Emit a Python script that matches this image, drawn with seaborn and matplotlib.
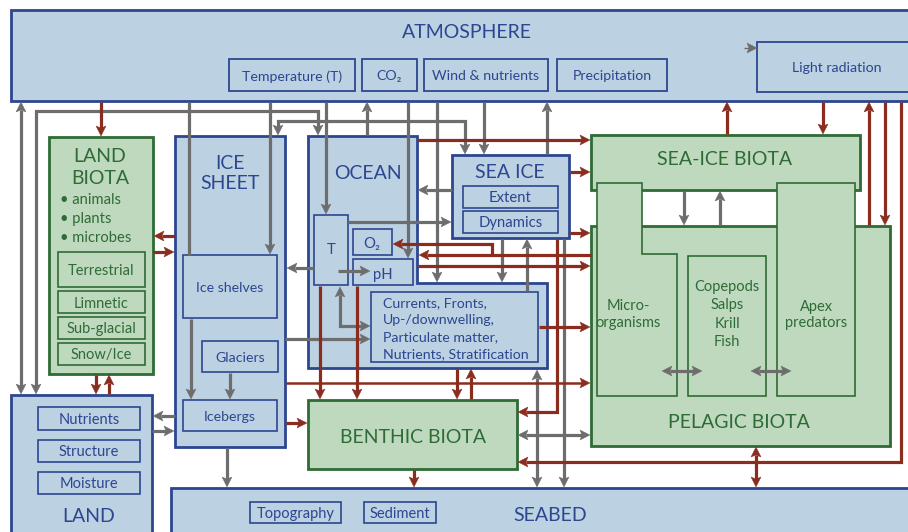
import matplotlib
matplotlib.use("Agg")
import matplotlib.pyplot as plt
from matplotlib.patches import Rectangle, Polygon
import numpy as np
import seaborn as sns

sns.set_theme(style="white")
plt.rcParams['font.family'] = ['Lato', 'DejaVu Sans']

# ---------------- text content ----------------
atmosphere_title = "ATMOSPHERE"
atmosphere_items = ["Temperature (T)", "CO\u2082", "Wind & nutrients", "Precipitation"]
light_label = "Light radiation"
land_biota_title = ["LAND", "BIOTA"]
land_biota_groups = ["animals", "plants", "microbes"]
land_biota_habitats = ["Terrestrial", "Limnetic", "Sub-glacial", "Snow/Ice"]
ice_sheet_title = ["ICE", "SHEET"]
ice_sheet_items = ["Ice shelves", "Glaciers", "Icebergs"]
ocean_title = "OCEAN"
ocean_items = ["T", "O\u2082", "pH"]
ocean_processes = ["Currents, Fronts,", "Up-/downwelling,", "Particulate matter,",
                   "Nutrients, Stratification"]
sea_ice_title = "SEA ICE"
sea_ice_items = ["Extent", "Dynamics"]
sea_ice_biota_title = "SEA-ICE BIOTA"
pelagic_title = "PELAGIC BIOTA"
pelagic_groups = [["Micro-", "organisms"], ["Copepods", "Salps", "Krill", "Fish"],
                  ["Apex", "predators"]]
benthic_title = "BENTHIC BIOTA"
land_title = "LAND"
land_items = ["Nutrients", "Structure", "Moisture"]
seabed_title = "SEABED"
seabed_items = ["Topography", "Sediment"]

# ---------------- styles ----------------
BLUE_FILL = "#bcd1e2"
BLUE_EDGE = "#2c4690"
GREEN_FILL = "#bed9be"
GREEN_EDGE = "#2e6b35"
GREEN_TEXT = "#2f6b36"
GRAY = "#6d6d6d"
RED = "#8a2d1f"

W, H = 908, 532
fig = plt.figure(figsize=(W / 100, H / 100), dpi=100)
ax = fig.add_axes([0, 0, 1, 1])
ax.set_xlim(0, W)
ax.set_ylim(H, 0)
ax.axis("off")
sns.despine(ax=ax, left=True, bottom=True)

TEXT_DY = 1.5


def box(x0, y0, x1, y1, kind="blue", lw=2.0, z=1):
    fc, ec = (BLUE_FILL, BLUE_EDGE) if kind == "blue" else (GREEN_FILL, GREEN_EDGE)
    ax.add_patch(Rectangle((x0, y0), x1 - x0, y1 - y0, facecolor=fc, edgecolor=ec,
                           lw=lw, zorder=z, joinstyle="miter"))


def poly(pts, kind="blue", lw=2.0, z=1):
    fc, ec = (BLUE_FILL, BLUE_EDGE) if kind == "blue" else (GREEN_FILL, GREEN_EDGE)
    ax.add_patch(Polygon(pts, closed=True, facecolor=fc, edgecolor=ec, lw=lw,
                         zorder=z, joinstyle="miter"))


def txt(x, y, s, kind="blue", size=10, ha="center", z=8):
    c = BLUE_EDGE if kind == "blue" else GREEN_TEXT
    ax.text(x, y + TEXT_DY, s, color=c, fontsize=size, ha=ha, va="center", zorder=z)


def head(p_from, p_tip, color, hl=10.0, hw=5.0):
    p0 = np.array(p_from, float)
    p1 = np.array(p_tip, float)
    d = p1 - p0
    d /= np.linalg.norm(d)
    n = np.array([-d[1], d[0]])
    base = p1 - d * hl
    notch = p1 - d * hl * 0.8
    ax.add_patch(Polygon([p1, base + n * hw, notch, base - n * hw], closed=True,
                         facecolor=color, edgecolor=color, lw=0.3, zorder=7))
    return p1 - d * hl * 0.8


def path(pts, color, lw=2.3, start=False, end=True):
    pts = [np.array(p, float) for p in pts]
    line = [p.copy() for p in pts]
    if end:
        line[-1] = head(pts[-2], pts[-1], color)
    if start:
        line[0] = head(pts[1], pts[0], color)
    xs = [p[0] for p in line]
    ys = [p[1] for p in line]
    ax.plot(xs, ys, color=color, lw=lw, solid_capstyle="butt",
            solid_joinstyle="miter", zorder=6)


# ---------------- boxes ----------------
TITLE = 14
ITEM = 10.2

# Atmosphere
box(11, 10, 930, 101)
txt(467, 31, atmosphere_title, size=TITLE)
atm_x = [(229, 355), (362, 417), (424, 548), (557, 667)]
for (a, b), s in zip(atm_x, atmosphere_items):
    box(a, 59, b, 91, lw=1.3, z=2)
    txt((a + b) / 2, 75, s, size=ITEM)
box(757, 42, 930, 92, lw=1.3, z=2)
txt(837, 67, light_label, size=ITEM)

# Land biota
box(49, 137, 153, 374, "green")
txt(100, 155, land_biota_title[0], "green", TITLE)
txt(100, 177, land_biota_title[1], "green", TITLE)
for i, s in enumerate(land_biota_groups):
    txt(60, 198 + i * 19.5, "\u2022 " + s, "green", 10.6, ha="left")
hab_y = [(252, 287), (291, 313), (317, 339), (343, 365)]
for (a, b), s in zip(hab_y, land_biota_habitats):
    box(58, a, 145, b, "green", lw=1.2, z=2)
    txt(101.5, (a + b) / 2, s, "green", ITEM + 0.3)

# Ice sheet
box(175, 136, 285, 447)
txt(230, 162, ice_sheet_title[0], size=TITLE)
txt(230, 182, ice_sheet_title[1], size=TITLE)
ice_boxes = [(183, 255, 277, 318), (202, 341, 278, 372), (183, 400, 277, 431)]
for (a, b, c, d), s in zip(ice_boxes, ice_sheet_items):
    box(a, b, c, d, lw=1.2, z=2)
    txt((a + c) / 2, (b + d) / 2, s, size=ITEM)

# Ocean (L-shaped)
poly([(308, 136), (417, 136), (417, 283), (547, 283), (547, 368), (308, 368)])
txt(368, 172, ocean_title, size=TITLE)
oc_boxes = [(314, 215, 348, 285), (353, 229, 392, 255), (353, 259, 413, 285)]
oc_txt = [(331, 249), (372, 242), (383, 273)]
for (a, b, c, d), (tx, ty), s in zip(oc_boxes, oc_txt, ocean_items):
    box(a, b, c, d, lw=1.2, z=2)
    txt(tx, ty, s, size=ITEM + 0.5)
box(371, 292, 538, 362, lw=1.2, z=2)
for i, s in enumerate(ocean_processes):
    txt(383, 302 + i * 17, s, size=ITEM, ha="left")

# Sea ice
box(452, 155, 569, 238)
txt(510, 171, sea_ice_title, size=TITLE)
for (a, b), s in zip([(186, 208), (211, 233)], sea_ice_items):
    box(463, a, 558, b, lw=1.2, z=2)
    txt(510.5, (a + b) / 2, s, size=ITEM + 0.5)

# Sea-ice biota & pelagic biota
box(591, 135, 860, 190, "green")
box(591, 226, 890, 446, "green")
txt(725, 158, sea_ice_biota_title, "green", TITLE)
txt(739, 421, pelagic_title, "green", TITLE)
poly([(597, 183), (642, 183), (642, 254), (677, 254), (677, 396), (597, 396)],
     "green", lw=1.2, z=3)
box(688, 256, 766, 396, "green", lw=1.2, z=3)
box(777, 183, 855, 396, "green", lw=1.2, z=3)
col_x = [628, 727, 816]
col_y0 = [304, 286, 305]
col_dy = [17, 18, 16.5]
for x, y0, dy, lines in zip(col_x, col_y0, col_dy, pelagic_groups):
    for i, s in enumerate(lines):
        txt(x, y0 + i * dy, s, "green", ITEM + 0.3)

# Benthic biota
box(308, 400, 517, 469, "green")
txt(413, 436, benthic_title, "green", TITLE)

# Land
box(11, 395, 152, 560)
for (a, b), s in zip([(407, 430), (440, 462), (472, 494)], land_items):
    box(38, a, 140, b, lw=1.2, z=2)
    txt(89, (a + b) / 2, s, size=ITEM + 0.3)
txt(89, 515, land_title, size=TITLE)

# Seabed
box(171, 488, 930, 560)
for (a, b), s in zip([(250, 341), (364, 436)], seabed_items):
    box(a, 502, b, 523, lw=1.2, z=2)
    txt((a + b) / 2, 512.5, s, size=ITEM + 0.3)
txt(550, 514, seabed_title, size=TITLE)

# ---------------- gray arrows ----------------
g = GRAY
path([(21, 102), (21, 394)], g, start=True)
path([(36, 394), (36, 111), (318, 111), (318, 135)], g, start=True)
path([(189, 255), (189, 102)], g, end=False)
path([(270, 102), (270, 254)], g)
path([(326, 102), (326, 214)], g)
path([(367, 135), (367, 102)], g)
path([(278, 135), (278, 121), (465, 121), (465, 154)], g, start=True)
path([(408, 102), (408, 258)], g)
path([(437, 102), (437, 282)], g)
path([(484, 102), (484, 154)], g)
path([(547, 154), (547, 102)], g)
path([(452, 190), (418, 190)], g)
path([(348, 222), (451, 222)], g)
path([(314, 268), (287, 268)], g)
path([(338, 271), (370, 271)], g)
path([(502, 239), (502, 282)], g)
path([(527, 291), (527, 239)], g)
path([(340, 287), (340, 326), (370, 326)], g, start=True)
path([(285, 339), (370, 339)], g)
path([(191, 319), (191, 399)], g)
path([(230, 373), (230, 399)], g)
path([(175, 416), (153, 416)], g)
path([(152, 431), (174, 431)], g)
path([(227, 448), (227, 487)], g)
path([(537, 370), (537, 487)], g, start=True)
path([(564, 239), (564, 487)], g)
path([(518, 435), (590, 435)], g, start=True)
path([(684, 191), (684, 225)], g)
path([(720, 225), (720, 191)], g)
path([(662, 371), (702, 371)], g, start=True)
path([(751, 371), (791, 371)], g, start=True)
path([(744, 48), (757, 48)], g, lw=1.0)

# ---------------- red arrows ----------------
r = RED
path([(101, 102), (101, 136)], r)
path([(175, 236), (154, 236)], r)
path([(153, 252), (174, 252)], r)
path([(96, 375), (96, 394)], r)
path([(109, 394), (109, 375)], r)
path([(286, 423), (307, 423)], r)
path([(286, 383), (590, 383)], r, lw=1.8)
path([(320, 286), (320, 399)], r)
path([(357, 286), (357, 399)], r)
path([(457, 369), (457, 399)], r)
path([(471, 399), (471, 369)], r)
path([(539, 327), (590, 327)], r)
path([(417, 140), (590, 140)], r)
path([(570, 172), (590, 172)], r)
path([(570, 233), (590, 233)], r)
path([(591, 255), (419, 255)], r)
path([(492, 255), (492, 244), (393, 244)], r)
path([(418, 266), (590, 266)], r)
path([(557, 239), (557, 412), (518, 412)], r)
path([(727, 134), (727, 102)], r)
path([(823, 102), (823, 134)], r)
path([(869, 225), (869, 102)], r)
path([(885, 102), (885, 225)], r)
path([(901, 102), (901, 462), (518, 462)], r)
path([(756, 447), (756, 487)], r, start=True)
path([(414, 470), (414, 487)], r)

fig.savefig("out.png", dpi=100)
